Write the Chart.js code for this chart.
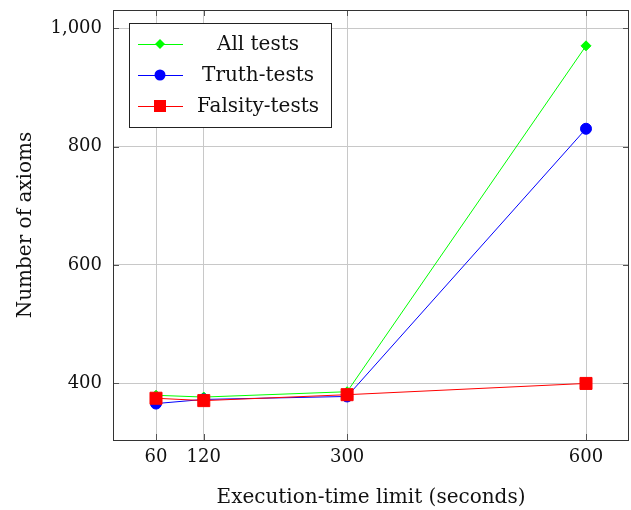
<!DOCTYPE html>
<html>
<head>
<meta charset="utf-8">
<script src="https://cdn.jsdelivr.net/npm/chart.js@4/dist/chart.umd.min.js"></script>
<style>
  html, body { margin: 0; padding: 0; background: #fff; }
  #wrap { width: 631px; height: 510px; }
</style>
</head>
<body>
<div id="wrap"><canvas id="axiomChart"></canvas></div>
<script>
const timeLimits = [60, 120, 300, 600];
const allTests = [380, 377, 386, 970];
const truthTests = [366, 373, 378, 830];
const falsityTests = [375, 371, 381, 400];
const seriesNames = ['All tests', 'Truth-tests', 'Falsity-tests'];
const xTicks = [60, 120, 300, 600];
const yTicks = [400, 600, 800, 1000];

const serif = "'DejaVu Serif', 'Liberation Serif', serif";

function pts(ys) {
    return timeLimits.map((x, i) => ({x: x, y: ys[i]}));
}

// frame, inner tick marks and the boxed legend, pgfplots style
const framePlugin = {
    id: 'framePlugin',
    beforeDatasetsDraw(chart) {
        const a = chart.chartArea;
        const ctx = chart.ctx;
        const xs = chart.scales.x, ys = chart.scales.y;
        ctx.save();
        ctx.strokeStyle = '#555';
        ctx.lineWidth = 1;
        ctx.beginPath();
        xTicks.forEach(v => {
            const px = Math.round(xs.getPixelForValue(v)) + 0.5;
            ctx.moveTo(px, a.bottom); ctx.lineTo(px, a.bottom - 6);
            ctx.moveTo(px, a.top); ctx.lineTo(px, a.top + 6);
        });
        yTicks.forEach(v => {
            const py = Math.round(ys.getPixelForValue(v)) + 0.5;
            ctx.moveTo(a.left, py); ctx.lineTo(a.left + 6, py);
            ctx.moveTo(a.right, py); ctx.lineTo(a.right - 6, py);
        });
        ctx.stroke();
        ctx.strokeStyle = '#333';
        ctx.strokeRect(Math.round(a.left) + 0.5, Math.round(a.top) + 0.5,
            Math.round(a.right - a.left) - 1, Math.round(a.bottom - a.top));
        ctx.restore();
    },
    afterDraw(chart) {
        const ctx = chart.ctx;
        const a = chart.chartArea;
        const bx = a.left + 16, by = a.top + 13, bw = 202, bh = 104;
        ctx.save();
        ctx.fillStyle = '#fff';
        ctx.fillRect(bx, by, bw, bh);
        ctx.strokeStyle = '#222';
        ctx.lineWidth = 1;
        ctx.strokeRect(bx + 0.5, by + 0.5, bw, bh);
        chart.data.datasets.slice().sort((p, q) => p.legendIdx - q.legendIdx).forEach((ds, i) => {
            const cy = by + 21 + i * 31;
            ctx.strokeStyle = ds.borderColor;
            ctx.lineWidth = 1;
            ctx.beginPath();
            ctx.moveTo(bx + 9, cy + 0.5);
            ctx.lineTo(bx + 54, cy + 0.5);
            ctx.stroke();
            ctx.fillStyle = ds.backgroundColor;
            const mx = bx + 31;
            ctx.beginPath();
            if (ds.pointStyle === 'rectRot') {
                const r = 5;
                ctx.moveTo(mx, cy - r); ctx.lineTo(mx + r, cy);
                ctx.lineTo(mx, cy + r); ctx.lineTo(mx - r, cy);
                ctx.closePath();
            } else if (ds.pointStyle === 'circle') {
                ctx.arc(mx, cy, 5.5, 0, Math.PI * 2);
            } else {
                ctx.rect(mx - 6, cy - 6, 12, 12);
            }
            ctx.fill();
            ctx.fillStyle = '#111';
            ctx.font = '20px ' + serif;
            ctx.textAlign = 'center';
            ctx.textBaseline = 'middle';
            ctx.fillText(ds.label, bx + 129, cy + 1);
        });
        ctx.restore();
    }
};

new Chart(document.getElementById('axiomChart'), {
    type: 'line',
    data: {
        datasets: [
            {
                label: seriesNames[0], data: pts(allTests), legendIdx: 0, order: 3,
                borderColor: '#00ff00', backgroundColor: '#00ff00',
                borderWidth: 1, pointStyle: 'rectRot', pointRadius: 5
            },
            {
                label: seriesNames[1], data: pts(truthTests), legendIdx: 1, order: 2,
                borderColor: '#0000ff', backgroundColor: '#0000ff',
                borderWidth: 1, pointStyle: 'circle', pointRadius: 5.5
            },
            {
                label: seriesNames[2], data: pts(falsityTests), legendIdx: 2, order: 1,
                borderColor: '#ff0000', backgroundColor: '#ff0000',
                borderWidth: 1, pointStyle: 'rect', pointRadius: 8.5
            }
        ]
    },
    options: {
        responsive: true,
        maintainAspectRatio: false,
        animation: false,
        layout: { autoPadding: false, padding: { top: 10, right: 2, left: 0, bottom: 0 } },
        plugins: { legend: { display: false }, tooltip: { enabled: false } },
        elements: { point: { borderWidth: 0 }, line: { tension: 0 } },
        scales: {
            x: {
                type: 'linear',
                min: 6, max: 654,
                afterBuildTicks: s => { s.ticks = xTicks.map(v => ({value: v})); },
                afterFit: s => { s.height = 70; s.paddingLeft = 0; s.paddingRight = 0; },
                grid: { color: '#c8c8c8', drawTicks: false },
                border: { display: false },
                ticks: { color: '#111', padding: 7, font: { family: serif, size: 18 } },
                title: {
                    display: true, text: 'Execution-time limit (seconds)', color: '#111',
                    padding: { top: 2, bottom: 0 }, font: { family: serif, size: 20 }
                }
            },
            y: {
                min: 304.5, max: 1030.5,
                afterBuildTicks: s => { s.ticks = yTicks.map(v => ({value: v})); },
                afterFit: s => { s.width = 113; s.paddingTop = 0; s.paddingBottom = 0; },
                grid: { color: '#c8c8c8', drawTicks: false },
                border: { display: false },
                ticks: {
                    color: '#111', padding: 11, font: { family: serif, size: 18 },
                    callback: v => v.toLocaleString('en-US')
                },
                title: {
                    display: true, text: 'Number of axioms', color: '#111',
                    padding: { top: 14, bottom: 0 }, font: { family: serif, size: 20 }
                }
            }
        }
    },
    plugins: [framePlugin]
});
</script>
</body>
</html>
